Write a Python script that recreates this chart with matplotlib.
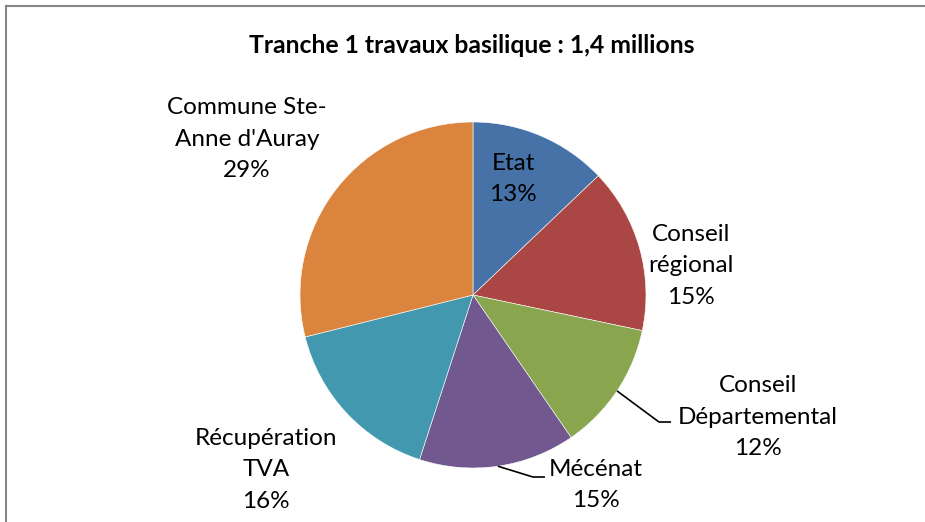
import numpy as np
import matplotlib
matplotlib.use("Agg")
import matplotlib.pyplot as plt
from matplotlib.lines import Line2D

plt.rcParams['font.family'] = ['Lato', 'DejaVu Sans']

# ---- data ----
title = "Tranche 1 travaux basilique : 1,4 millions"
categories = ["Etat", "Conseil\nrégional", "Conseil\nDépartemental", "Mécénat",
              "Récupération\nTVA", "Commune Ste-\nAnne d'Auray"]
shares = [12.9, 15.4, 12.1, 14.6, 16.1, 28.9]
colors = ["#4672A8", "#AA4744", "#89A54E", "#71598F", "#4299AF", "#DB843E"]

# ---- layout (pixel coordinates, y measured from top) ----
W, H = 925, 522
cx, cy, R = 473, 295, 173
label_pos = [(513, 179), (691, 266), (758, 417), (596, 485), (266, 470), (247, 139)]
leader_to = [None, None, (659, 422, 671), (533, 477, 545), None, None]

fig = plt.figure(figsize=(W / 100, H / 100), dpi=100)
ax = fig.add_axes([0, 0, 1, 1])

# pie: with inverted y axis, startangle -90 is screen-up and counterclock goes clockwise on screen
wedges, _ = ax.pie(shares, colors=colors, startangle=-90, counterclock=True,
                   center=(cx, cy), radius=R, frame=True,
                   wedgeprops=dict(edgecolor='white', linewidth=0.4))
ax.set_xlim(0, W)
ax.set_ylim(H, 0)
ax.set_aspect('equal')
ax.axis('off')

total = sum(shares)
cum = np.cumsum([0] + shares)
for i, (cat, v) in enumerate(zip(categories, shares)):
    pct = round(v / total * 100)
    x, y = label_pos[i]
    ax.text(x, y, f"{cat}\n{pct}%", ha='center', va='center', fontsize=17.5,
            color='black', linespacing=1.6)
    if leader_to[i] is not None:
        mid = (cum[i] + cum[i + 1]) / 2 / total * 2 * np.pi
        sx = cx + R * np.sin(mid)
        sy = cy - R * np.cos(mid)
        ex, ey, hx = leader_to[i]
        ax.plot([sx, ex, hx], [sy, ey, ey], color='black', lw=1.2, solid_capstyle='butt')

fig.text(472 / W, 1 - 45 / H, title, ha='center', va='center', fontsize=17.8,
         fontweight='bold')

# chart border (top and left visible)
fig.add_artist(Line2D([6 / W, 1], [1 - 6 / H, 1 - 6 / H], color='#868686', lw=1.5,
                      transform=fig.transFigure))
fig.add_artist(Line2D([6 / W, 6 / W], [0, 1 - 6 / H], color='#868686', lw=1.5,
                      transform=fig.transFigure))

fig.savefig("out.png", dpi=100, facecolor='white')
